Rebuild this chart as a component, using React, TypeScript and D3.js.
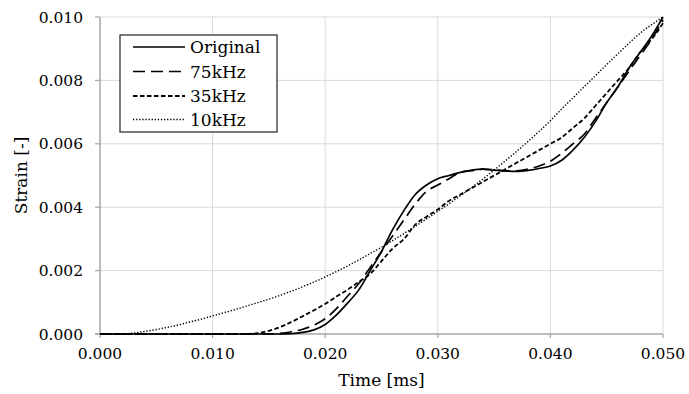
import React from "react";
import * as d3 from "d3";

const time = [
  0, 0.001, 0.002, 0.003, 0.004, 0.005, 0.006, 0.007, 0.008, 0.009,
  0.010, 0.011, 0.012, 0.013, 0.014, 0.015, 0.016, 0.017, 0.018, 0.019,
  0.020, 0.021, 0.022, 0.023, 0.024, 0.025, 0.026, 0.027, 0.028, 0.029,
  0.030, 0.031, 0.032, 0.033, 0.034, 0.035, 0.036, 0.037, 0.038, 0.039,
  0.040, 0.041, 0.042, 0.043, 0.044, 0.045, 0.046, 0.047, 0.048, 0.049,
  0.050,
];

const original = [
  0, 0, 0, 0, 0, 0, 0, 0, 0, 0,
  0, 0, 0, 0, 0, 0, 0, 0.00001, 0.00005, 0.00013,
  0.0003, 0.0006, 0.00098, 0.0014, 0.002, 0.0026, 0.0033, 0.0039, 0.0044, 0.0047,
  0.0049, 0.005, 0.0051, 0.00517, 0.0052, 0.00517, 0.00514, 0.00513, 0.00516, 0.00522,
  0.0053, 0.00548, 0.0058, 0.0062, 0.0067, 0.0073, 0.0078, 0.0084, 0.0089, 0.0094,
  0.01,
];

const khz75 = [
  0, 0, 0, 0, 0, 0, 0, 0, 0, 0,
  0, 0, 0, 0, 0, 0, 0.00002, 0.00007, 0.00015, 0.00028,
  0.00048, 0.0008, 0.0012, 0.0016, 0.0021, 0.0026, 0.0031, 0.0036, 0.0041, 0.0045,
  0.0047, 0.0049, 0.0051, 0.00515, 0.0052, 0.00518, 0.00515, 0.00515, 0.0052, 0.0053,
  0.00545, 0.0057, 0.006, 0.0063, 0.0068, 0.0073, 0.0078, 0.0083, 0.0088, 0.0093,
  0.0099,
];

const khz35 = [
  0, 0, 0, 0, 0, 0, 0, 0, 0, 0,
  0, 0, 0, 0, 0.00003, 0.0001, 0.00022, 0.00038, 0.00056, 0.00075,
  0.00095, 0.00118, 0.0014, 0.00165, 0.0019, 0.0023, 0.0027, 0.003, 0.00345, 0.0037,
  0.00393, 0.0042, 0.0044, 0.0046, 0.0048, 0.005, 0.0052, 0.0054, 0.0056, 0.0058,
  0.006, 0.0062, 0.0065, 0.0068, 0.0072, 0.0076, 0.008, 0.0084, 0.0089, 0.0093,
  0.0098,
];

const khz10 = [
  0, 0, 0, 0.00003, 0.00008, 0.00014, 0.00021, 0.00029, 0.00038, 0.00047,
  0.00057, 0.00067, 0.00077, 0.00088, 0.00099, 0.0011, 0.00122, 0.00135, 0.00149, 0.00164,
  0.0018, 0.00197, 0.00215, 0.00234, 0.00254, 0.00274, 0.00295, 0.00317, 0.0034, 0.00363,
  0.00387, 0.00411, 0.00436, 0.00462, 0.00489, 0.00517, 0.00546, 0.00576, 0.00607, 0.00639,
  0.00673, 0.0071, 0.00745, 0.0078, 0.00815, 0.0085, 0.00884, 0.00918, 0.0095, 0.00976,
  0.01,
];

const seriesNames = ["Original", "75kHz", "35kHz", "10kHz"];
const xTicks = [0, 0.01, 0.02, 0.03, 0.04, 0.05];
const yTicks = [0, 0.002, 0.004, 0.006, 0.008, 0.01];

const W = 689;
const H = 394;
const M = { left: 100, right: 663, top: 17, bottom: 334 };
const FONT = '"DejaVu Serif", "Liberation Serif", serif';

const styles = [
  { dash: "none", width: 1.7 },
  { dash: "12,6", width: 1.7 },
  { dash: "4.5,2.5", width: 1.8 },
  { dash: "1.3,1.8", width: 1.4 },
];

export default function App() {
  const x = d3.scaleLinear().domain([0, 0.05]).range([M.left, M.right]);
  const y = d3.scaleLinear().domain([0, 0.01]).range([M.bottom, M.top]);
  const allSeries = [original, khz75, khz35, khz10];
  const line = d3
    .line<number>()
    .x((_, i) => x(time[i]))
    .y((d) => y(d))
    .curve(d3.curveMonotoneX);

  const legend = { x: 120, y: 35, w: 157, h: 97 };
  const rowY = [47, 71.5, 96, 119.5];
  const textStyle = { fontFamily: FONT };

  return (
    <svg
      width={W}
      height={H}
      style={{ position: "absolute", left: 0, top: 0, background: "#fff", fontFamily: FONT }}
    >
      <rect x={0} y={0} width={W} height={H} fill="#fff" />
      {xTicks.slice(1).map((t) => (
        <line key={"gx" + t} x1={x(t)} x2={x(t)} y1={M.top} y2={M.bottom} stroke="#d9d9d9" strokeWidth={1} />
      ))}
      {yTicks.slice(1).map((t) => (
        <line key={"gy" + t} x1={M.left} x2={M.right} y1={y(t)} y2={y(t)} stroke="#d9d9d9" strokeWidth={1} />
      ))}
      <line x1={M.left} x2={M.left} y1={M.top} y2={M.bottom} stroke="#a6a6a6" strokeWidth={1.5} />
      <line x1={M.left - 5} x2={M.right} y1={M.bottom} y2={M.bottom} stroke="#a6a6a6" strokeWidth={1.5} />
      {yTicks.map((t) => (
        <line key={"ty" + t} x1={M.left - 5} x2={M.left} y1={y(t)} y2={y(t)} stroke="#a6a6a6" strokeWidth={1.2} />
      ))}
      {xTicks.map((t) => (
        <line key={"tx" + t} x1={x(t)} x2={x(t)} y1={M.bottom} y2={M.bottom + 4} stroke="#a6a6a6" strokeWidth={1.2} />
      ))}
      {yTicks.map((t) => (
        <text key={"ly" + t} style={textStyle} x={83} y={y(t) + 5.5} textAnchor="end" fontSize={15.5} fill="#000">
          {d3.format(".3f")(t)}
        </text>
      ))}
      {xTicks.map((t) => (
        <text key={"lx" + t} style={textStyle} x={x(t)} y={359} textAnchor="middle" fontSize={15.5} fill="#000">
          {d3.format(".3f")(t)}
        </text>
      ))}
      <text style={textStyle} x={(M.left + M.right) / 2} y={386} textAnchor="middle" fontSize={17} fill="#000">
        Time [ms]
      </text>
      <text
        style={textStyle}
        transform={`translate(27,${(M.top + M.bottom) / 2}) rotate(-90)`}
        textAnchor="middle"
        fontSize={17}
        fill="#000"
      >
        Strain [-]
      </text>
      {allSeries.map((s, i) => (
        <path
          key={"s" + i}
          d={line(s) || ""}
          fill="none"
          stroke="#000"
          strokeWidth={styles[i].width}
          strokeDasharray={styles[i].dash}
        />
      ))}
      <rect x={legend.x} y={legend.y} width={legend.w} height={legend.h} fill="#fff" stroke="#333" strokeWidth={1.3} />
      {seriesNames.map((n, i) => (
        <g key={"lg" + n}>
          <line
            x1={133}
            x2={185}
            y1={rowY[i]}
            y2={rowY[i]}
            stroke="#000"
            strokeWidth={styles[i].width}
            strokeDasharray={styles[i].dash}
          />
          <text style={textStyle} x={190} y={rowY[i] + 6} fontSize={17} fill="#000">
            {n}
          </text>
        </g>
      ))}
    </svg>
  );
}
